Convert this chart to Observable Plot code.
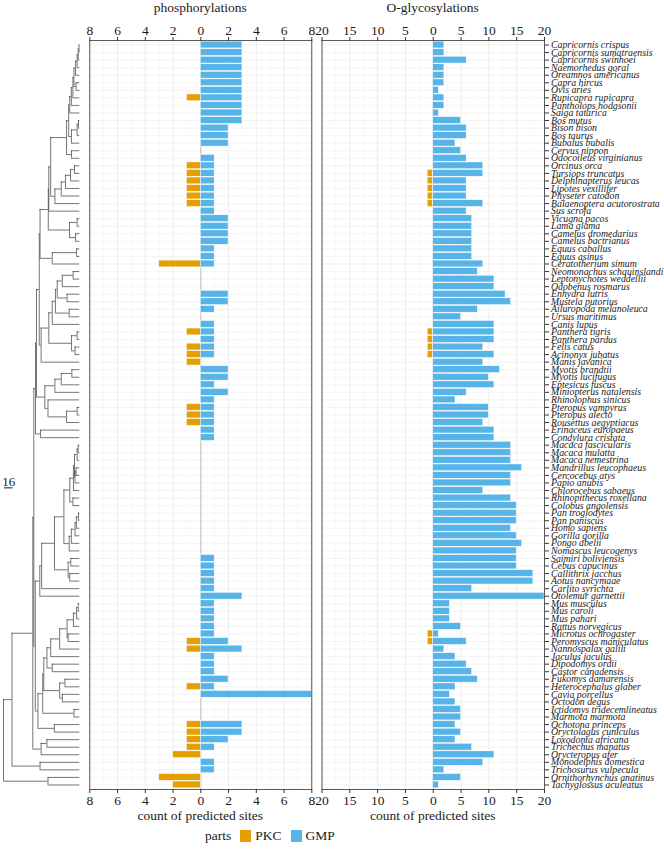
<!DOCTYPE html>
<html>
<head>
<meta charset="utf-8">
<script src="https://cdn.jsdelivr.net/npm/d3@7"></script>
<script src="https://cdn.jsdelivr.net/npm/@observablehq/plot@0.6"></script>
<style>
  html, body { margin: 0; padding: 0; background: #fff; }
  #chart { position: relative; width: 664px; height: 849px; font-family: "Liberation Serif", "Times New Roman", serif; color: #1a1a1a; }
  #chart > svg { position: absolute; top: 0; }
  .t { position: absolute; font-size: 13.5px; white-space: nowrap; transform: translateX(-50%); }
  #legend { position: absolute; top: 828px; left: 205px; display: flex; align-items: center; font-size: 13.5px; }
  .sw { width: 11px; height: 12px; display: inline-block; margin: 0 4px 0 9px; }
</style>
</head>
<body>
<div id="chart"></div>
<script>
const species = [
  "Capricornis crispus","Capricornis sumatraensis","Capricornis swinhoei","Naemorhedus goral","Oreamnos americanus",
  "Capra hircus","Ovis aries","Rupicapra rupicapra","Pantholops hodgsonii","Saiga tatarica",
  "Bos mutus","Bison bison","Bos taurus","Bubalus bubalis","Cervus nippon",
  "Odocoileus virginianus","Orcinus orca","Tursiops truncatus","Delphinapterus leucas","Lipotes vexillifer",
  "Physeter catodon","Balaenoptera acutorostrata","Sus scrofa","Vicugna pacos","Lama glama",
  "Camelus dromedarius","Camelus bactrianus","Equus caballus","Equus asinus","Ceratotherium simum",
  "Neomonachus schauinslandi","Leptonychotes weddellii","Odobenus rosmarus","Enhydra lutris","Mustela putorius",
  "Ailuropoda melanoleuca","Ursus maritimus","Canis lupus","Panthera tigris","Panthera pardus",
  "Felis catus","Acinonyx jubatus","Manis javanica","Myotis brandtii","Myotis lucifugus",
  "Eptesicus fuscus","Miniopterus natalensis","Rhinolophus sinicus","Pteropus vampyrus","Pteropus alecto",
  "Rousettus aegyptiacus","Erinaceus europaeus","Condylura cristata","Macaca fascicularis","Macaca mulatta",
  "Macaca nemestrina","Mandrillus leucophaeus","Cercocebus atys","Papio anubis","Chlorocebus sabaeus",
  "Rhinopithecus roxellana","Colobus angolensis","Pan troglodytes","Pan paniscus","Homo sapiens",
  "Gorilla gorilla","Pongo abelii","Nomascus leucogenys","Saimiri boliviensis","Cebus capucinus",
  "Callithrix jacchus","Aotus nancymaae","Carlito syrichta","Otolemur garnettii","Mus musculus",
  "Mus caroli","Mus pahari","Rattus norvegicus","Microtus ochrogaster","Peromyscus maniculatus",
  "Nannospalax galili","Jaculus jaculus","Dipodomys ordii","Castor canadensis","Fukomys damarensis",
  "Heterocephalus glaber","Cavia porcellus","Octodon degus","Ictidomys tridecemlineatus","Marmota marmota",
  "Ochotona princeps","Oryctolagus cuniculus","Loxodonta africana","Trichechus manatus","Orycteropus afer",
  "Monodelphis domestica","Trichosurus vulpecula","Ornithorhynchus anatinus","Tachyglossus aculeatus"
];

// phosphorylation sites (count)
const phosGMP = [3,3,3,3,3,3,3,3,3,3, 3,2,2,2,0,1,1,1,1,1, 1,1,1,2,2,2,2,1,1,1,
  0,0,0,2,2,1,0,1,1,1, 1,1,0,2,2,1,2,1,1,1, 1,1,1,0,0,0,0,0,0,0,
  0,0,0,0,0,0,0,0,1,1, 1,1,1,3,1,1,1,1,1,2, 3,1,1,1,2,1,8,0,0,0,
  3,3,2,1,0,1,1,0,0];
const phosPKC = [0,0,0,0,0,0,0,1,0,0, 0,0,0,0,0,0,1,1,1,1, 1,1,0,0,0,0,0,0,0,3,
  0,0,0,0,0,0,0,0,1,0, 1,1,1,0,0,0,0,0,1,1, 1,0,0,0,0,0,0,0,0,0,
  0,0,0,0,0,0,0,0,0,0, 0,0,0,0,0,0,0,0,0,1, 1,0,0,0,0,1,0,0,0,0,
  1,1,1,1,2,0,0,3,2];
// O-glycosylation sites (count)
const glycoGMP = [2,2,6,2,2,2,1,2,2,1, 5,6,6,4,5,6,9,9,6,6, 6,9,6,7,7,7,7,7,7,9,
  8,11,11,13,14,8,5,11,11,11, 9,11,9,12,10,11,6,4,10,10, 9,11,11,14,14,14,16,14,14,9,
  14,15,15,15,14,15,16,15,15,15, 18,18,7,20,3,3,3,5,1,6, 2,4,6,7,8,4,3,4,5,5,
  4,5,4,7,11,9,2,5,1];
const glycoPKC = [0,0,0,0,0,0,0,0,0,0, 0,0,0,0,0,0,0,1,1,1, 1,1,0,0,0,0,0,0,0,0,
  0,0,0,0,0,0,0,0,1,1, 1,1,0,0,0,0,0,0,0,0, 0,0,0,0,0,0,0,0,0,0,
  0,0,0,0,0,0,0,0,0,0, 0,0,0,0,0,0,0,0,1,1, 0,0,0,0,0,0,0,0,0,0,
  0,0,0,0,0,0,0,0,0];

const parts = ["PKC", "GMP"];
const partColors = ["#E69F00", "#56B4E9"];
const phosTicks = [-8,-6,-4,-2,0,2,4,6,8];
const glycoTicks = [-20,-15,-10,-5,0,5,10,15,20];
const panelTitles = ["phosphorylations", "O-glycosylations"];
const axisTitle = "count of predicted sites";
const legendTitle = "parts";

const caprini = [13, [11, [8, [5, [3, [1.5, "Capricornis crispus", "Capricornis sumatraensis"], "Capricornis swinhoei"], "Naemorhedus goral"], "Oreamnos americanus"], [7, "Capra hircus", "Ovis aries"]], "Rupicapra rupicapra"];
const bovidae = [21, [19, [16, caprini, "Pantholops hodgsonii"], "Saiga tatarica"], [15.7, [5, [2.5, "Bos mutus", "Bison bison"], "Bos taurus"], "Bubalus bubalis"]];
const ruminants = [25, bovidae, [15.7, "Cervus nippon", "Odocoileus virginianus"]];
const cetacea = [47, [35, [27, [17.5, [10, "Orcinus orca", "Tursiops truncatus"], "Delphinapterus leucas"], "Lipotes vexillifer"], "Physeter catodon"], "Balaenoptera acutorostrata"];
const cetartio = [59.5, [58.5, [55, ruminants, cetacea], "Sus scrofa"], [19.4, [5, "Vicugna pacos", "Lama glama"], [8, "Camelus dromedarius", "Camelus bactrianus"]]];
const perisso = [52, [6, "Equus caballus", "Equus asinus"], "Ceratotherium simum"];
const carnivora = [58.5, [52, [46, [42.6, [33, [12.5, "Neomonachus schauinslandi", "Leptonychotes weddellii"], "Odobenus rosmarus"], [24, "Enhydra lutris", "Mustela putorius"]], [20, "Ailuropoda melanoleuca", "Ursus maritimus"]], "Canis lupus"], [15.7, [5, "Panthera tigris", "Panthera pardus"], [9, "Felis catus", "Acinonyx jubatus"]]];
const fereungulata = [76.5, [75, cetartio, perisso], [73, carnivora, "Manis javanica"]];
const chiroptera = [66, [47, [35, [15, "Myotis brandtii", "Myotis lucifugus"], "Eptesicus fuscus"], "Miniopterus natalensis"], [60, "Rhinolophus sinicus", [25, [5, "Pteropus vampyrus", "Pteropus alecto"], "Rousettus aegyptiacus"]]];
const laurasiatheria = [83.6, [81.7, fereungulata, chiroptera], [74, "Erinaceus europaeus", "Condylura cristata"]];
const cercopithecidae = [18.9, [12, [10, [5, [3, "Macaca fascicularis", "Macaca mulatta"], "Macaca nemestrina"], [9, [7, "Mandrillus leucophaeus", "Cercocebus atys"], "Papio anubis"]], "Chlorocebus sabaeus"], [13, "Rhinopithecus roxellana", "Colobus angolensis"]];
const hominoidea = [20, [16, [9, [6.5, [2.5, "Pan troglodytes", "Pan paniscus"], "Homo sapiens"], "Gorilla gorilla"], "Pongo abelii"], "Nomascus leucogenys"];
const primates = [75.5, [72, [47.7, [30, cercopithecidae, hominoidea], [22, [17, "Saimiri boliviensis", "Cebus capucinus"], [19, "Callithrix jacchus", "Aotus nancymaae"]]], "Carlito syrichta"], "Otolemur garnettii"];
const rodentia = [70, [68, [62, [55, [38, [24, [12, [6, [3, "Mus musculus", "Mus caroli"], "Mus pahari"], "Rattus norvegicus"], [22, "Microtus ochrogaster", "Peromyscus maniculatus"]], "Nannospalax galili"], "Jaculus jaculus"], [52, "Dipodomys ordii", "Castor canadensis"]], [38, [28, "Fukomys damarensis", "Heterocephalus glaber"], [33, "Cavia porcellus", "Octodon degus"]]], [11, "Ictidomys tridecemlineatus", "Marmota marmota"]];
const glires = [79, rodentia, [48, "Ochotona princeps", "Oryctolagus cuniculus"]];
const euarchontoglires = [84, primates, glires];
const afrotheria = [73, [62, "Loxodonta africana", "Trichechus manatus"], "Orycteropus afer"];
const placentalia = [88.7, [86.8, laurasiatheria, euarchontoglires], afrotheria];
const theria = [128, placentalia, [75, "Monodelphis domestica", "Trichosurus vulpecula"]];
const mammalia = [144, theria, [60, "Ornithorhynchus anatinus", "Tachyglossus aculeatus"]];
const scaleBarLength = 16;

// ---------- layout constants ----------
const H = 849, MT = 40, MB = 60;
const font = "Liberation Serif, Times New Roman, serif";
const ink = "#1a1a1a";
const chart = document.getElementById("chart");
const hasAxis = typeof Plot.axisX === "function";

function rows(gmp, pkc) {
  const out = [];
  species.forEach((s, i) => {
    if (pkc[i]) out.push({species: s, part: "PKC", value: -pkc[i]});
    if (gmp[i]) out.push({species: s, part: "GMP", value: gmp[i]});
  });
  return out;
}

function panel({data, ticks, minor, left, width, ml, mr, labels}) {
  const lim = ticks[ticks.length - 1];
  const marks = [
    Plot.ruleX(minor, {stroke: "#f2f2f2", strokeWidth: 0.6}),
    Plot.ruleX(ticks, {stroke: "#e8e8e8", strokeWidth: 0.8}),
    Plot.ruleY(species, {y: d => d, stroke: "#ececec", strokeWidth: 0.6}),
    Plot.ruleX([0], {stroke: "#b5b5b5", strokeWidth: 0.8}),
    Plot.barX(data, {x: "value", y: "species", fill: "part", stroke: "white", strokeWidth: 0.5}),
    Plot.frame({stroke: "#333", strokeWidth: 0.8})
  ];
  if (hasAxis) {
    const ax = {ticks, tickFormat: d => Math.abs(d), label: null, tickSize: 4, tickPadding: 2, fontSize: 13.5, fontFamily: font, stroke: "#333", fill: ink};
    marks.push(Plot.axisX({...ax, anchor: "top"}), Plot.axisX({...ax, anchor: "bottom"}));
    if (labels) marks.push(Plot.axisY({anchor: "right", label: null, tickSize: 4, tickPadding: 2.5, fontSize: 9.8, fontFamily: font, fontStyle: "italic", stroke: "#333", fill: ink}));
  }
  const svg = Plot.plot({
    width, height: H, marginLeft: ml, marginRight: mr, marginTop: MT, marginBottom: MB,
    style: {fontFamily: font, fontSize: "13.5px", background: "transparent", overflow: "visible", color: ink},
    x: {domain: [-lim, lim], ...(hasAxis ? {} : {axis: "both", ticks, tickFormat: d => Math.abs(d), label: null})},
    y: {type: "band", domain: species, paddingInner: 0.1, paddingOuter: 0.15, ...(labels ? (hasAxis ? {} : {axis: "right", label: null}) : {axis: null})},
    color: {domain: parts, range: partColors},
    marks
  });
  svg.style.left = left + "px";
  chart.appendChild(svg);
}

panel({data: rows(phosGMP, phosPKC), ticks: phosTicks, minor: d3.range(-7, 8, 2), left: 80, width: 240, ml: 9.3, mr: 8.7, labels: false});
panel({data: rows(glycoGMP, glycoPKC), ticks: glycoTicks, minor: d3.range(-17.5, 18, 5), left: 315, width: 349, ml: 6.5, mr: 120, labels: true});

// ---------- tree ----------
const vsegs = [], hsegs = [];
function layout(node) {
  if (typeof node === "string") return {y: species.indexOf(node), age: 0};
  const [age, ...kids] = node;
  const ks = kids.map(layout);
  const y0 = ks[0].y, y1 = ks[ks.length - 1].y;
  vsegs.push({x: age, y1: y0, y2: y1});
  for (const k of ks) hsegs.push({y: k.y, x1: age, x2: k.age});
  return {y: (y0 + y1) / 2, age};
}
layout(mammalia);
const rootAge = mammalia[0];
const scaleBar = [{y: 58.65, x1: rootAge - 2, x2: rootAge - 2 - scaleBarLength, label: String(scaleBarLength)}];
const tree = Plot.plot({
  width: 89, height: H, marginLeft: 0, marginRight: 0, marginTop: MT, marginBottom: MB,
  style: {fontFamily: font, fontSize: "13.5px", background: "transparent", overflow: "visible", color: ink},
  x: {domain: [rootAge, 0], range: [3, 79.3], axis: null},
  y: {domain: [species.length - 0.4, -0.6], axis: null},
  marks: [
    Plot.ruleX(vsegs, {x: "x", y1: "y1", y2: "y2", stroke: "#3a3a3a", strokeWidth: 0.7}),
    Plot.ruleY(hsegs, {y: "y", x1: "x1", x2: "x2", stroke: "#3a3a3a", strokeWidth: 0.7}),
    Plot.ruleY(scaleBar, {y: "y", x1: "x1", x2: "x2", stroke: ink, strokeWidth: 1}),
    Plot.text(scaleBar, {x: d => (d.x1 + d.x2) / 2, y: "y", text: "label", lineAnchor: "bottom", dy: -1.5, fill: ink, fontSize: 13, fontFamily: font})
  ]
});
tree.style.left = "0px";
chart.appendChild(tree);

// ---------- titles & legend ----------
function addText(txt, x, y) {
  const d = document.createElement("div");
  d.className = "t"; d.textContent = txt;
  d.style.left = x + "px"; d.style.top = y + "px";
  chart.appendChild(d);
}
addText(panelTitles[0], 200.3, 0);
addText(panelTitles[1], 432.7, 0);
addText(axisTitle, 200.3, 808);
addText(axisTitle, 432.7, 808);

const lg = document.createElement("div");
lg.id = "legend";
lg.appendChild(Object.assign(document.createElement("span"), {textContent: legendTitle}));
parts.forEach((p, i) => {
  const sw = document.createElement("span");
  sw.className = "sw"; sw.style.background = partColors[i];
  lg.appendChild(sw);
  lg.appendChild(Object.assign(document.createElement("span"), {textContent: p}));
});
chart.appendChild(lg);
</script>
</body>
</html>
